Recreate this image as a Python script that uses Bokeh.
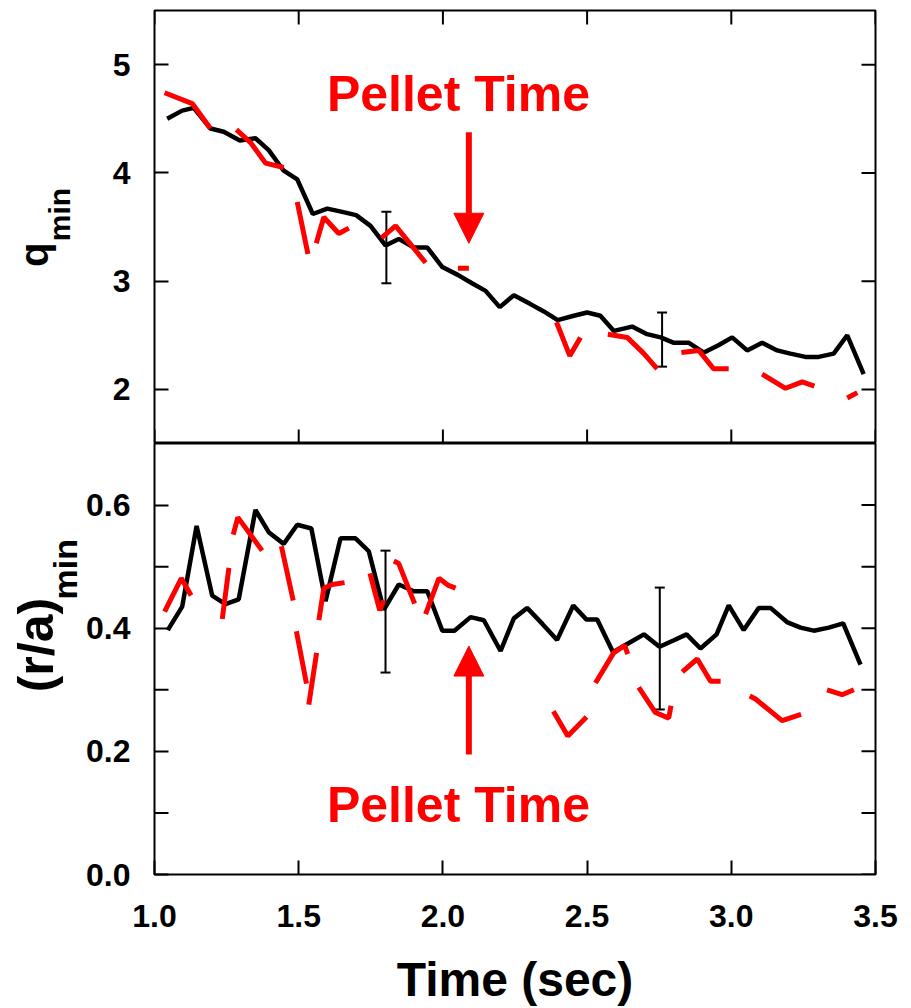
import math
from bokeh.plotting import figure
from bokeh.models import (ColumnDataSource, Whisker, TeeHead, Arrow, NormalHead, Label,
                          LinearAxis, FixedTicker, Range1d, NumeralTickFormatter)
from bokeh.layouts import column
from bokeh.embed import file_html
from bokeh.resources import INLINE

nan = float("nan")

# ---------------- data ----------------
# top panel: q_min (black solid)
t_blk_q = [1.044, 1.096, 1.136, 1.194, 1.240, 1.296, 1.350, 1.396, 1.448, 1.495,
           1.549, 1.599, 1.651, 1.699, 1.749, 1.801, 1.847, 1.899, 1.946, 1.998,
           2.050, 2.101, 2.148, 2.197, 2.246, 2.302, 2.350, 2.398, 2.454, 2.500,
           2.546, 2.593, 2.656, 2.708, 2.755, 2.801, 2.853, 2.905, 2.957, 3.003,
           3.055, 3.107, 3.159, 3.205, 3.257, 3.303, 3.355, 3.402, 3.459]
q_blk = [4.50, 4.575, 4.60, 4.41, 4.38, 4.30, 4.32, 4.21, 4.02, 3.94,
         3.62, 3.67, 3.64, 3.61, 3.51, 3.33, 3.39, 3.31, 3.31, 3.13,
         3.06, 2.98, 2.91, 2.76, 2.87, 2.79, 2.72, 2.64, 2.68, 2.71,
         2.68, 2.54, 2.58, 2.51, 2.48, 2.43, 2.43, 2.34, 2.41, 2.48,
         2.36, 2.43, 2.36, 2.33, 2.30, 2.30, 2.33, 2.50, 2.14]

# top panel: q_min (red, broken)
t_red_q = [1.035, 1.131, 1.194, nan, 1.284, 1.333, 1.385, 1.448, nan, 1.495, 1.532, nan,
           1.561, 1.587, 1.639, 1.674, nan, 1.787, 1.836, 1.940, nan, 2.052, 2.090, nan,
           2.394, 2.440, 2.477, nan, 2.572, 2.639, 2.697, 2.743, nan,
           2.827, 2.887, 2.939, 2.991, nan, 3.107, 3.188, 3.246, 3.288, nan, 3.402, 3.437]
q_red = [4.74, 4.64, 4.41, nan, 4.40, 4.28, 4.09, 4.05, nan, 3.73, 3.25, nan,
         3.35, 3.59, 3.44, 3.49, nan, 3.40, 3.51, 3.17, nan, 3.12, 3.12, nan,
         2.62, 2.31, 2.48, nan, 2.51, 2.48, 2.33, 2.19, nan,
         2.34, 2.36, 2.19, 2.19, nan, 2.14, 2.01, 2.07, 2.03, nan, 1.92, 1.97]

# bottom panel: (r/a)_min (black solid)
t_blk_r = [1.046, 1.096, 1.146, 1.200, 1.246, 1.292, 1.350, 1.396, 1.448, 1.495,
           1.544, 1.593, 1.645, 1.697, 1.743, 1.795, 1.847, 1.899, 1.946, 1.998,
           2.040, 2.096, 2.142, 2.200, 2.246, 2.292, 2.345, 2.396, 2.452, 2.498,
           2.535, 2.590, 2.645, 2.697, 2.751, 2.799, 2.845, 2.893, 2.949, 2.991,
           3.043, 3.095, 3.136, 3.193, 3.240, 3.286, 3.338, 3.388, 3.448]
r_blk = [0.397, 0.435, 0.566, 0.453, 0.439, 0.447, 0.592, 0.556, 0.537, 0.568,
         0.562, 0.444, 0.546, 0.546, 0.525, 0.430, 0.471, 0.460, 0.460, 0.396,
         0.396, 0.418, 0.413, 0.363, 0.416, 0.433, 0.407, 0.381, 0.437, 0.414,
         0.414, 0.361, 0.376, 0.390, 0.370, 0.380, 0.390, 0.367, 0.390, 0.437,
         0.397, 0.433, 0.433, 0.410, 0.401, 0.396, 0.401, 0.408, 0.341]

# bottom panel: (r/a)_min (red, broken)
t_red_r = [1.035, 1.093, 1.127, nan, 1.235, 1.258, nan, 1.273, 1.289, 1.373, nan,
           1.440, 1.481, nan, 1.492, 1.527, nan, 1.535, 1.562, nan,
           1.570, 1.587, 1.616, 1.659, nan, 1.747, 1.781, 1.795, nan,
           1.830, 1.847, 1.902, nan, 1.940, 1.986, 2.017, 2.044, nan,
           2.383, 2.433, 2.498, nan, 2.529, 2.592, 2.630, 2.641, nan,
           2.679, 2.737, 2.783, 2.791, nan, 2.830, 2.882, 2.928, 2.963, nan,
           3.064, 3.084, 3.176, 3.242, nan, 3.332, 3.384, 3.425]
r_red = [0.427, 0.481, 0.453, nan, 0.415, 0.498, nan, 0.552, 0.580, 0.526, nan,
         0.533, 0.445, nan, 0.395, 0.310, nan, 0.276, 0.360, nan,
         0.413, 0.465, 0.471, 0.474, nan, 0.489, 0.429, 0.445, nan,
         0.509, 0.505, 0.440, nan, 0.423, 0.481, 0.470, 0.465, nan,
         0.265, 0.225, 0.256, nan, 0.311, 0.360, 0.372, 0.358, nan,
         0.304, 0.263, 0.254, 0.274, nan, 0.329, 0.350, 0.314, 0.314, nan,
         0.290, 0.285, 0.250, 0.260, nan, 0.300, 0.292, 0.300]

# error bars
err_t_q = [1.804, 2.760]
err_q_hi = [3.64, 2.71]
err_q_lo = [2.98, 2.21]
err_t_r = [1.801, 2.752]
err_r_hi = [0.526, 0.466]
err_r_lo = [0.328, 0.268]

x_ticks = [1.0, 1.5, 2.0, 2.5, 3.0, 3.5]
q_ticks = [2, 3, 4, 5]
r_ticks = [0.0, 0.2, 0.4, 0.6]
r_minor = [0.1, 0.3, 0.5]

pellet_time = 2.09

# ---------------- styling / geometry ----------------
FONT = "Liberation Sans"
RED = "#ff0000"
NB = "\u00a0"
FRAME_W, FRAME_TOP_H, FRAME_BOT_H = 721, 433, 432
LB, RB = 154, 34
MAIN_W = LB + FRAME_W + RB
TOP_BORDER, BOT_BORDER = 10, 133
TOP_H = TOP_BORDER + FRAME_TOP_H
BOT_H = FRAME_BOT_H + BOT_BORDER
TICK_PX = 14

X0, X1 = 1.0, 3.5
Q0, Q1 = 1.5, 5.5
R0, R1 = 0.0, 0.7


def tick_axis(ticks, fmt, standoff):
    ax = LinearAxis(ticker=FixedTicker(ticks=ticks), formatter=NumeralTickFormatter(format=fmt))
    ax.axis_line_color = None
    ax.major_tick_in = TICK_PX
    ax.major_tick_out = 0
    ax.major_tick_line_width = 2
    ax.major_tick_line_color = "black"
    ax.minor_tick_line_color = None
    ax.major_label_text_font = FONT
    ax.major_label_text_font_style = "bold"
    ax.major_label_text_color = "black"
    ax.major_label_text_font_size = "32px"
    ax.major_label_standoff = standoff
    return ax


def title_axis(text, size, standoff):
    """an axis without ticks that only carries a (rotated) title"""
    ax = LinearAxis(ticker=FixedTicker(ticks=[]))
    ax.axis_line_color = None
    ax.major_tick_line_color = None
    ax.minor_tick_line_color = None
    ax.major_tick_in = 0
    ax.major_tick_out = 0
    ax.minor_tick_out = 0
    ax.major_label_standoff = 0
    ax.axis_label = text
    ax.axis_label_text_font = FONT
    ax.axis_label_text_font_style = "bold"
    ax.axis_label_text_font_size = size
    ax.axis_label_text_color = "black"
    ax.axis_label_standoff = standoff
    return ax


def base_fig(h, yr, top_border, bottom_border):
    p = figure(width=MAIN_W, height=h, x_range=Range1d(X0, X1), y_range=yr,
               output_backend="svg", toolbar_location=None,
               x_axis_location=None, y_axis_location=None,
               min_border_left=LB, min_border_right=RB,
               min_border_top=top_border, min_border_bottom=bottom_border)
    p.grid.visible = False
    p.outline_line_color = "black"
    p.outline_line_width = 2
    p.outline_line_alpha = 1.0
    p.background_fill_color = "white"
    p.border_fill_color = "white"
    return p


def inner_ticks(p, ticks, edge, dim, span, frame_px):
    """short inward tick marks on a frame edge (span signed: direction inward)"""
    d = span * TICK_PX / frame_px
    n = len(ticks)
    if dim == "x":
        p.segment(x0=ticks, y0=[edge] * n, x1=ticks, y1=[edge + d] * n,
                  line_color="black", line_width=2)
    else:
        p.segment(x0=[edge] * n, y0=ticks, x1=[edge + d] * n, y1=ticks,
                  line_color="black", line_width=2)


def whisker(p, t, hi, lo):
    p.add_layout(Whisker(source=ColumnDataSource(dict(t=t, hi=hi, lo=lo)),
                         base="t", upper="hi", lower="lo", line_color="black", line_width=2,
                         upper_head=TeeHead(size=10, line_width=2, line_color="black"),
                         lower_head=TeeHead(size=10, line_width=2, line_color="black")))


def pellet(p, x, y0, y1, ty):
    p.add_layout(Arrow(end=NormalHead(size=30, fill_color=RED, line_color=RED),
                       x_start=x, y_start=y0, x_end=x, y_end=y1,
                       line_color=RED, line_width=6))
    p.add_layout(Label(x=2.054, y=ty, text="Pellet Time", text_align="center",
                       text_baseline="alphabetic", text_color=RED, text_font=FONT,
                       text_font_style="bold", text_font_size="50px"))


# ---------------- top panel ----------------
top = base_fig(TOP_H, Range1d(Q0, Q1), TOP_BORDER, 0)
top.add_layout(tick_axis(q_ticks, "0", 24), "left")
top.add_layout(title_axis(NB * 3 + "min", "30px", 34), "left")
top.add_layout(title_axis("q" + NB * 5, "40px", -16), "left")
inner_ticks(top, x_ticks, Q0, "x", Q1 - Q0, FRAME_TOP_H)
inner_ticks(top, x_ticks, Q1, "x", -(Q1 - Q0), FRAME_TOP_H)
inner_ticks(top, q_ticks, X1, "y", -(X1 - X0), FRAME_W)

top.line(t_blk_q, q_blk, line_color="black", line_width=4.5)
top.line(t_red_q, q_red, line_color=RED, line_width=5)
whisker(top, err_t_q, err_q_hi, err_q_lo)
pellet(top, pellet_time, 4.375, 3.35, 4.729)

# ---------------- bottom panel ----------------
bot = base_fig(BOT_H, Range1d(R0, R1), 0, BOT_BORDER)
bx = tick_axis(x_ticks, "0.0", 30)
bx.axis_label = "Time (sec)"
bx.axis_label_text_font = FONT
bx.axis_label_text_font_style = "bold"
bx.axis_label_text_font_size = "48px"
bx.axis_label_text_color = "black"
bx.axis_label_standoff = 23
bot.add_layout(bx, "below")
bot.add_layout(tick_axis(r_ticks, "0.0", 24), "left")
bot.add_layout(title_axis(NB * 19 + "min", "34px", 0), "left")
bot.add_layout(title_axis(NB * 2 + "(r/a)", "50px", -21), "left")
inner_ticks(bot, r_minor, X0, "y", X1 - X0, FRAME_W)
inner_ticks(bot, r_ticks + r_minor, X1, "y", -(X1 - X0), FRAME_W)

bot.line(t_blk_r, r_blk, line_color="black", line_width=4.5)
bot.line(t_red_r, r_red, line_color=RED, line_width=5)
whisker(bot, err_t_r, err_r_hi, err_r_lo)
pellet(bot, pellet_time, 0.195, 0.371, 0.1134)

layout = column(top, bot, spacing=0)
open("out.html", "w").write(file_html(layout, INLINE))
